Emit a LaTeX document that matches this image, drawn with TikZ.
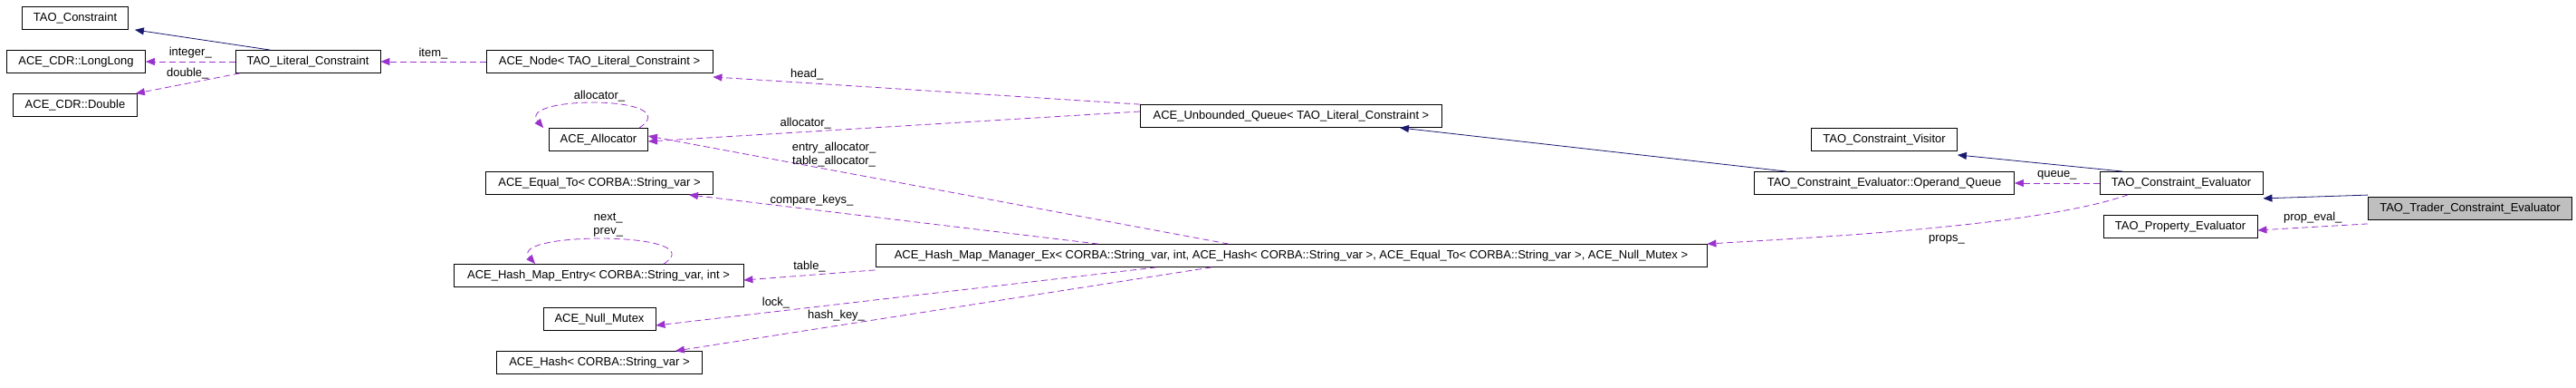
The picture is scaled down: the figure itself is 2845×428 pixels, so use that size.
\documentclass[tikz,border=0pt]{standalone}
\usepackage{fontspec}
\setmainfont{Liberation Sans}
\usepackage{xcolor}
\usepackage{tikz}
\usetikzlibrary{arrows.meta}
\usetikzlibrary{positioning}
\definecolor{inhColor}{RGB}{25,25,112}
\definecolor{depColor}{RGB}{154,50,205}
\definecolor{grayFill}{RGB}{191,191,191}
\tikzset{cls/.style = {draw, line width=0.8pt, minimum height=25, inner xsep=6pt, inner ysep=0pt, font=\fontsize{13}{15}\selectfont},
  inh/.style = {draw=inhColor, line width=0.8pt, -{Triangle[length=10pt, width=8pt]}},
  dep/.style = {draw=depColor, line width=0.8pt, dash pattern=on 7pt off 4pt, -{Triangle[length=10pt, width=8pt]}},
  lbl/.style = {font=\fontsize{13}{15}\selectfont, inner sep=1pt, align=center}}

\begin{document}
\begin{tikzpicture}[x=1pt,y=-1pt]
\path[use as bounding box,fill=white] (0,0) rectangle (2845,428);

% classes
\node[cls, minimum width=117] (tcon) at (83,20) {TAO\_Constraint};
\node[cls, minimum width=153] (llong) at (84,68) {ACE\_CDR::LongLong};
\node[cls, minimum width=137] (dbl) at (83,116) {ACE\_CDR::Double};
\node[cls, minimum width=160] (lit) at (340,68) {TAO\_Literal\_Constraint};
\node[cls, minimum width=250] (anode) at (662,68) {ACE\_Node< TAO\_Literal\_Constraint >};
\node[cls, minimum width=109] (alloc) at (661,154) {ACE\_Allocator};
\node[cls, minimum width=251] (eqto) at (662,202) {ACE\_Equal\_To< CORBA::String\_var >};
\node[cls, minimum width=320] (entry) at (661,304) {ACE\_Hash\_Map\_Entry< CORBA::String\_var, int >};
\node[cls, minimum width=124] (nmutex) at (662,352) {ACE\_Null\_Mutex};
\node[cls, minimum width=227] (ahash) at (662,400) {ACE\_Hash< CORBA::String\_var >};
\node[cls, minimum width=918] (hmm) at (1426,282) {ACE\_Hash\_Map\_Manager\_Ex< CORBA::String\_var, int, ACE\_Hash< CORBA::String\_var >, ACE\_Equal\_To< CORBA::String\_var >, ACE\_Null\_Mutex >};
\node[cls, minimum width=333] (uqueue) at (1426,128) {ACE\_Unbounded\_Queue< TAO\_Literal\_Constraint >};
\node[cls, minimum width=161] (visitor) at (2081,154) {TAO\_Constraint\_Visitor};
\node[cls, minimum width=287] (opqueue) at (2081,202) {TAO\_Constraint\_Evaluator::Operand\_Queue};
\node[cls, minimum width=180] (ceval) at (2409,202) {TAO\_Constraint\_Evaluator};
\node[cls, minimum width=170] (peval) at (2408,250) {TAO\_Property\_Evaluator};
\node[cls, minimum width=225, fill=grayFill] (trader) at (2728,230) {TAO\_Trader\_Constraint\_Evaluator};

% inheritance
\draw[inh] ([xshift=-22]lit.north east) ++(-100,0) -- ([xshift=7]tcon.south east);
\draw[inh] ([xshift=36]opqueue.north west) -- ([xshift=-47]uqueue.south east);
\draw[inh] ([xshift=26]ceval.north west) -- ([yshift=-4]visitor.south east);
\draw[inh] ([yshift=2]trader.north west) -- ([yshift=-4]ceval.south east);

% members
\draw[dep] (lit.west) -- node[lbl, above=2pt] {integer\_} (llong.east);
\draw[dep] ([xshift=5]lit.south west) -- node[lbl, above=4pt] {double\_} ([xshift=-2]dbl.north east);
\draw[dep] (anode.west) -- node[lbl, above=2pt] {item\_} (lit.east);
\draw[dep] (uqueue.north west) -- node[lbl, pos=0.78, above=2pt] {head\_} ([yshift=-4]anode.south east);
\draw[dep] ([yshift=5]uqueue.west) -- node[lbl, pos=0.68, above=2pt] {allocator\_} ([yshift=-2]alloc.east);
\draw[dep] ([xshift=45]alloc.north) .. controls (760,105) and (570,105) .. ([xshift=-6]alloc.north west)
  node[lbl, pos=0.5, above=1pt] {allocator\_};
\draw[dep] ([xshift=-69]hmm.north) -- node[lbl, pos=0.68, above=3pt] {entry\_allocator\_\\table\_allocator\_} ([yshift=4]alloc.east);
\draw[dep] ([xshift=-213]hmm.north) -- node[lbl, pos=0.7, above=3pt] {compare\_keys\_} ([xshift=-27]eqto.south east);
\draw[dep] ([yshift=-3]hmm.south west) -- node[lbl, above=2pt] {table\_} ([yshift=-5]entry.east);
\draw[dep] ([xshift=72]entry.north) .. controls (790,255) and (560,255) .. ([xshift=-70]entry.north)
  node[lbl, pos=0.5, above=1pt] {next\_\\prev\_};
\draw[dep] ([xshift=-149]hmm.south) -- node[lbl, pos=0.76, above=2pt] {lock\_} ([yshift=-7]nmutex.east);
\draw[dep] ([xshift=-88]hmm.south) -- node[lbl, pos=0.7, above=4pt] {hash\_key\_} ([xshift=-30]ahash.north east);
\draw[dep] ([xshift=-59]ceval.south) .. controls (2250,250) and (2000,262) .. (hmm.north east)
  node[lbl, pos=0.45, below=8pt] {props\_};
\draw[dep] (ceval.west) -- node[lbl, above=2pt] {queue\_} (opqueue.east);
\draw[dep] ([yshift=-4]trader.south west) -- node[lbl, above=3pt] {prop\_eval\_} ([yshift=-4]peval.east);
\end{tikzpicture}
\end{document}
